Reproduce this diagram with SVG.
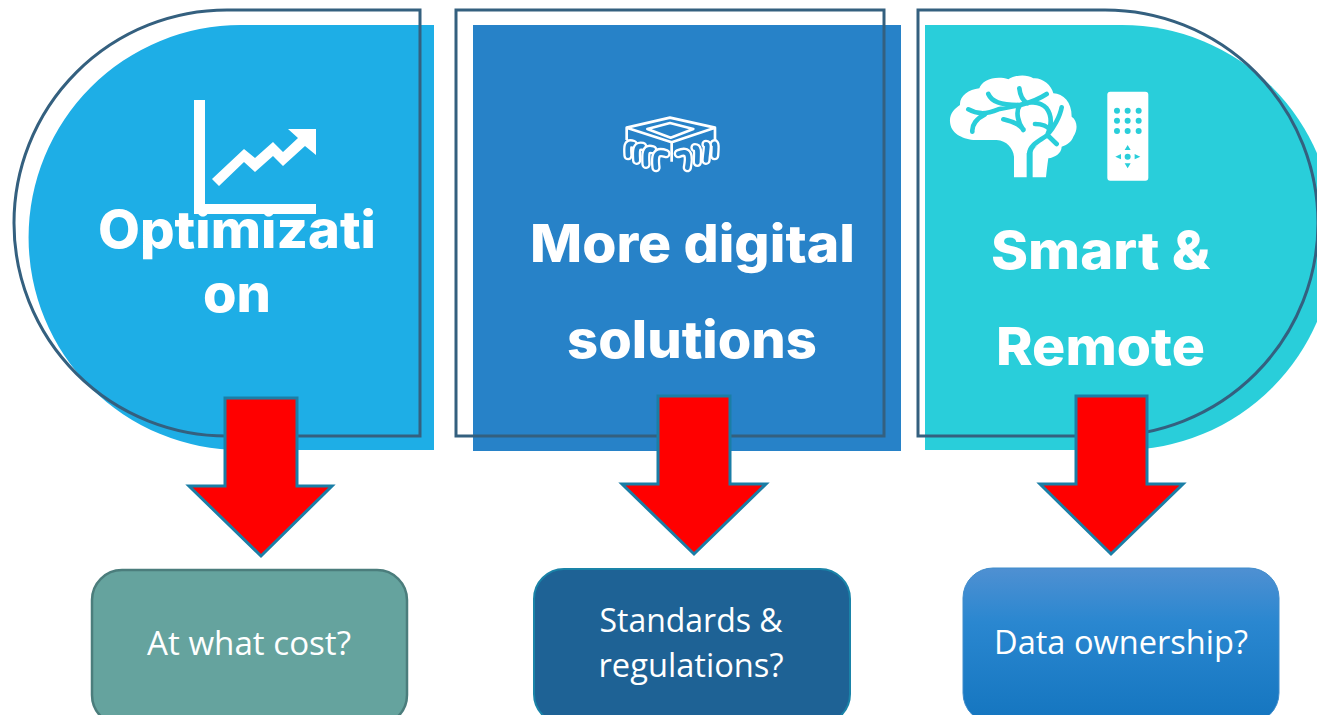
<svg xmlns="http://www.w3.org/2000/svg" width="1317" height="715" viewBox="0 0 1317 715">
<style>
.outline{fill:none;stroke:#34607F;stroke-width:3}
.title{font-family:"Inter","Liberation Sans",sans-serif;font-weight:800;font-size:52px;fill:#fff;text-anchor:middle}
.sub{font-family:"Open Sans","Noto Sans",sans-serif;font-size:32px;fill:#fff;text-anchor:middle}
.arrow{fill:#FF0000;stroke:#1A7EA6;stroke-width:3}
.vein{fill:none;stroke:#29CEDA;stroke-width:14;stroke-linecap:round;stroke-linejoin:round}
.legw{fill:none;stroke:#fff;stroke-width:28;stroke-linecap:round}
.legb{fill:none;stroke:#2782C8;stroke-width:14;stroke-linecap:round}
</style>
<defs>
<linearGradient id="g3" x1="0" y1="0" x2="0" y2="1"><stop offset="0" stop-color="#4F90D2"/><stop offset=".35" stop-color="#2A87D0"/><stop offset="1" stop-color="#1475BF"/></linearGradient>
</defs>
<rect width="1317" height="715" fill="#fff"/>

<g id="panel-optimization">
<path d="M434 25H241A212.500 212.500 0 0 0 241 450H434Z" fill="#1EAEE6"/>
<path class="outline" d="M420 10H227A213 213 0 0 0 227 436H420Z"/>
<path fill="#fff" d="M194 100H205V204H316V214H194Z"/>
<path fill="#fff" d="M212 179L244 149L255 158L273 142L283 152L298 138L288 129H316V155L305 146L283 166L273 156L255 172L244 162L219 186Z"/>
<text class="title" x="237" y="248" textLength="278" lengthAdjust="spacingAndGlyphs">Optimizati</text>
<text class="title" x="237" y="312" textLength="68" lengthAdjust="spacingAndGlyphs">on</text>
</g>

<g id="panel-digital">
<rect x="473" y="25" width="428" height="426" fill="#2782C8"/>
<rect class="outline" x="456" y="10" width="428" height="426"/>
<g transform="translate(610 105) scale(.3333)">
<path fill="none" stroke="#fff" stroke-width="8" stroke-linejoin="round" d="M50 68L180 38L315 68L185 112ZM112 72L180 54L250 72L182 98ZM50 68V105M315 68V105M185 112V170"/>
<path class="legw" d="M70 118C52 112 52 125 54 152"/><path class="legb" d="M70 118C52 112 52 125 54 152"/>
<path class="legw" d="M98 124C78 120 78 135 80 166"/><path class="legb" d="M98 124C78 120 78 135 80 166"/>
<path class="legw" d="M128 134C106 128 106 145 108 178"/><path class="legb" d="M128 134C106 128 106 145 108 178"/>
<path class="legw" d="M168 146C136 134 134 155 138 188"/><path class="legb" d="M168 146C136 134 134 155 138 188"/>
<path class="legw" d="M312 118C316 112 316 125 314 152"/><path class="legb" d="M312 118C316 112 316 125 314 152"/>
<path class="legw" d="M288 118C296 118 290 135 288 166"/><path class="legb" d="M288 118C296 118 290 135 288 166"/>
<path class="legw" d="M255 128C266 128 262 145 262 172"/><path class="legb" d="M255 128C266 128 262 145 262 172"/>
<path class="legw" d="M205 146C238 132 238 155 232 188"/><path class="legb" d="M205 146C238 132 238 155 232 188"/>
</g>
<text class="title" x="692.500" y="262" textLength="325" lengthAdjust="spacingAndGlyphs">More digital</text>
<text class="title" x="692" y="358" textLength="250" lengthAdjust="spacingAndGlyphs">solutions</text>
</g>

<g id="panel-smart">
<path d="M925 25H1122A212.500 212.500 0 0 1 1122 450H925Z" fill="#29CEDA"/>
<path class="outline" d="M918 10H1105A213 213 0 0 1 1105 436H918Z"/>
<g transform="translate(940 70) scale(.3333)">
<path fill="#fff" d="M222 322V260C220 235 200 212 170 210H100C65 205 32 190 30 155C28 130 45 115 60 105C58 80 85 58 118 55C125 32 165 15 205 28C225 15 260 12 280 25C305 22 335 45 340 70C370 72 395 95 395 140C412 150 415 180 400 200C395 215 380 225 365 230C365 250 345 262 325 265C322 285 320 305 318 322H278V250C278 240 285 230 300 222L268 240L260 250V322Z"/>
<path class="vein" d="M268 322V250C268 225 300 212 322 195L350 222M322 195C340 175 360 140 365 112M322 195C335 165 335 135 320 115C300 92 260 95 240 105C225 125 235 160 250 180M190 148C215 155 235 160 250 178M285 162C300 162 320 165 330 180M145 72C155 95 180 105 240 105C260 100 285 95 320 72M238 55C240 75 245 90 262 100M85 118C110 132 135 135 175 118L240 105M135 133C110 145 95 165 97 185"/>
<rect x="502" y="65" width="123" height="267" rx="9" fill="#fff"/>
<g fill="#29CEDA">
<circle cx="531" cy="122" r="9"/><circle cx="563" cy="122" r="9"/><circle cx="596" cy="122" r="9"/>
<circle cx="531" cy="152" r="9"/><circle cx="563" cy="152" r="9"/><circle cx="596" cy="152" r="9"/>
<circle cx="531" cy="183" r="9"/><circle cx="563" cy="183" r="9"/><circle cx="596" cy="183" r="9"/>
<circle cx="563" cy="260" r="9"/>
<path d="M563 225L572 240H554ZM563 295L572 280H554ZM526 260L543 252V268ZM601 260L584 252V268Z"/>
</g>
</g>
<text class="title" x="1100.500" y="269" textLength="219" lengthAdjust="spacingAndGlyphs">Smart &amp;</text>
<text class="title" x="1100.500" y="365" textLength="209" lengthAdjust="spacingAndGlyphs">Remote</text>
</g>

<g id="connectors">
<path class="arrow" d="M225 398H297V486H332L261 556L189 486H225Z"/>
<path class="arrow" d="M658 396H730V484H766L694 554L622 484H658Z"/>
<path class="arrow" d="M1076 396H1147V484H1183L1111 554L1040 484H1076Z"/>
</g>

<g id="box-cost">
<rect x="92" y="570" width="315" height="155" rx="30" fill="#65A39E" stroke="#4B7D7C" stroke-width="2.500"/>
<text class="sub" x="249" y="655" textLength="204" lengthAdjust="spacingAndGlyphs">At what cost?</text>
</g>
<g id="box-standards">
<rect x="534" y="569" width="316" height="155" rx="30" fill="#1E6295" stroke="#1A83A8" stroke-width="2"/>
<text class="sub" x="691" y="632" textLength="183" lengthAdjust="spacingAndGlyphs">Standards &amp;</text>
<text class="sub" x="691" y="677" textLength="185" lengthAdjust="spacingAndGlyphs">regulations?</text>
</g>
<g id="box-data">
<rect x="963" y="568" width="316" height="155" rx="30" fill="url(#g3)" stroke="#3F8CCB" stroke-width="1"/>
<text class="sub" x="1121" y="654" textLength="254" lengthAdjust="spacingAndGlyphs">Data ownership?</text>
</g>
</svg>
